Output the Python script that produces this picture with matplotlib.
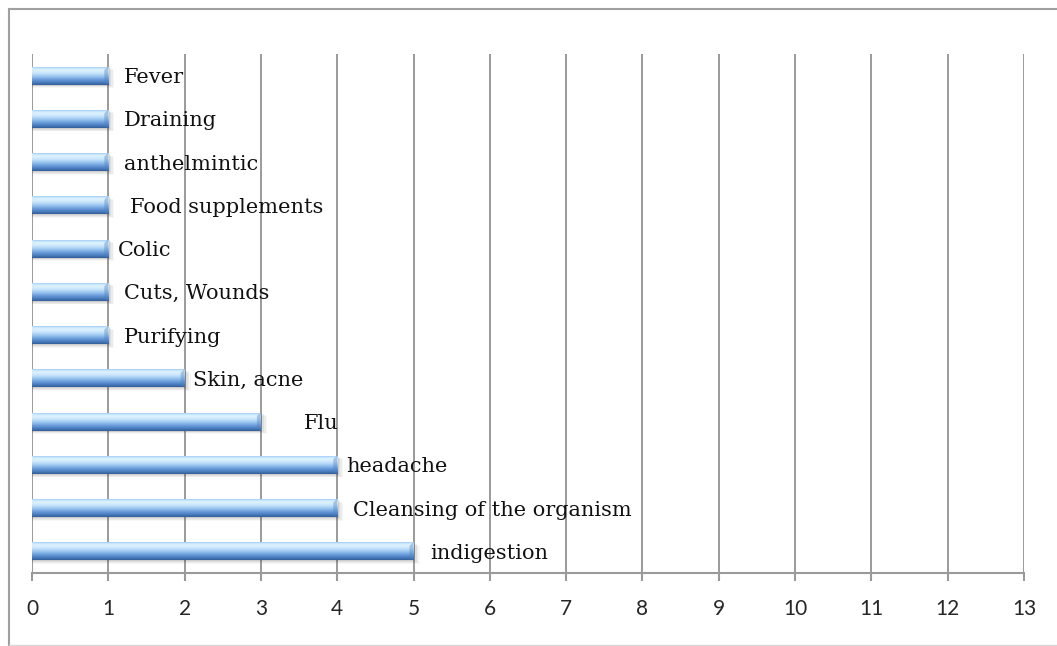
import numpy as np
import matplotlib
matplotlib.use("Agg")
import matplotlib.pyplot as plt
from matplotlib.colors import LinearSegmentedColormap
from matplotlib.lines import Line2D
from matplotlib.patches import Rectangle, Polygon

# Uses of the plant, listed bottom to top, with the number of citations
uses = ["indigestion", "Cleansing of the organism", "headache", "Flu",
        "Skin, acne", "Purifying", "Cuts, Wounds", "Colic",
        "Food supplements", "anthelmintic", "Draining", "Fever"]
counts = [5, 4, 4, 3, 2, 1, 1, 1, 1, 1, 1, 1]
x_ticks = list(range(0, 14))

# horizontal gap (pixels) between each bar end and its label
label_gap = [17, 16, 9, 43, 8, 16, 16, 10, 22, 16, 16, 16]

W, H, DPI = 1057, 646, 100
fig = plt.figure(figsize=(W / DPI, H / DPI), dpi=DPI)
fig.patch.set_facecolor("white")

left, right, top, bottom = 32, 1024, 54, 573
ax = fig.add_axes([left / W, (H - bottom) / H, (right - left) / W, (bottom - top) / H])

ypos = np.arange(len(uses))
bar_h = 0.42
grid_c = "#9a9a9a"

ax.set_xticks(x_ticks)
ax.set_xticklabels([str(t) for t in x_ticks], fontfamily="Lato", fontsize=15, color="#262626")
ax.set_yticks([])
for sp in ("top", "right", "left"):
    ax.spines[sp].set_visible(False)
ax.spines["bottom"].set_color(grid_c)
ax.spines["bottom"].set_linewidth(1.5)
ax.tick_params(axis="x", length=6, width=1.5, color=grid_c, pad=13)
ax.xaxis.grid(True, color=grid_c, linewidth=1.4)
ax.set_axisbelow(True)

# glossy vertical gradient for the bars (top -> bottom)
glossy = LinearSegmentedColormap.from_list(
    "glossy",
    [(0.0, "#7eb0e6"), (0.08, "#b8ddfa"), (0.2, "#e2f4fe"), (0.38, "#c6e4fb"),
     (0.55, "#98c4ef"), (0.72, "#6a9cda"), (0.88, "#477abd"), (1.0, "#345d96")])
grad = np.linspace(0, 1, 64).reshape(-1, 1)

px = 13 / (right - left)  # data units per pixel along x

bars = ax.barh(ypos, counts, height=bar_h, color="none", edgecolor="none", zorder=3)
for y, v, b in zip(ypos, counts, bars):
    y0, y1 = y - bar_h / 2, y + bar_h / 2
    # soft shadow under the bar
    for k, a in zip(range(1, 5), [0.10, 0.08, 0.06, 0.04]):
        ax.add_patch(Rectangle((0, y0 - 0.02 * k), v + 0.02 * k, bar_h,
                               facecolor="#404040", edgecolor="none", alpha=a, zorder=2))
    im = ax.imshow(grad, cmap=glossy, aspect="auto", interpolation="bicubic",
                   extent=(0, v, y0, y1), origin="upper", zorder=3)
    im.set_clip_path(b)
    # bevelled end caps
    ax.add_patch(Polygon([(v, y1), (v - 4 * px, y1 - 0.08), (v - 4 * px, y0 + 0.05), (v, y0)],
                         closed=True, facecolor="#4f82c2", edgecolor="none", alpha=0.4, zorder=4))
    ax.add_patch(Polygon([(0, y1), (5 * px, y1 - 0.1), (0, y1 - 0.1)],
                         closed=True, facecolor="#d5ecfd", edgecolor="none", alpha=0.6, zorder=4))

ax.set_xlim(0, 13)
ax.set_ylim(-0.5, len(uses) - 0.5)

for y, v, name, gap in zip(ypos, counts, uses, label_gap):
    ax.annotate(name, xy=(v, y), xytext=(gap, -2), textcoords="offset pixels",
                ha="left", va="center", fontfamily="DejaVu Serif", fontsize=15,
                color="#111111", zorder=5)

# chart frame
frame_c = "#a0a0a0"
fig.add_artist(Line2D([9 / W, 1.0], [(H - 9) / H] * 2, transform=fig.transFigure,
                      color=frame_c, lw=1.5))
fig.add_artist(Line2D([9 / W] * 2, [(H - 9) / H, 0.0], transform=fig.transFigure,
                      color=frame_c, lw=1.5))
fig.add_artist(Line2D([9 / W, 1.0], [1.5 / H] * 2, transform=fig.transFigure,
                      color="#d8d8d8", lw=1.0))

fig.savefig("out.png", dpi=DPI, facecolor="white")
